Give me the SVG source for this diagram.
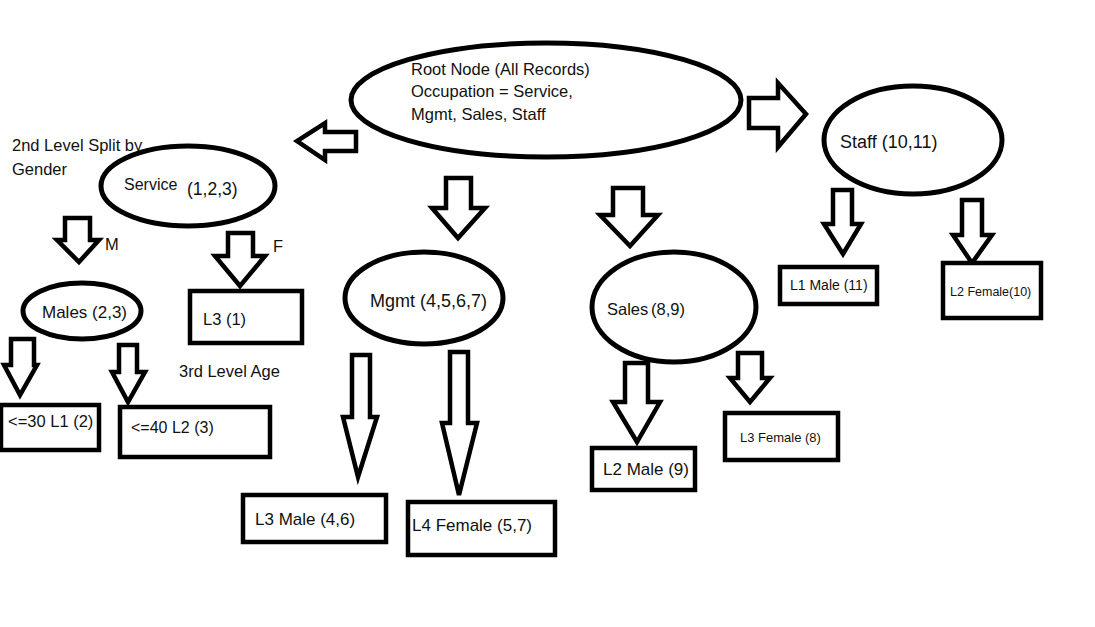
<svg xmlns="http://www.w3.org/2000/svg" width="1095" height="627" viewBox="0 0 1095 627">
<style>
.node{fill:#fff;stroke:#000;stroke-width:5}
.box{fill:#fff;stroke:#000;stroke-width:4.5}
.arrow{fill:#fff;stroke:#000;stroke-width:4.5;stroke-linejoin:miter}
text{font-family:"Liberation Sans",Arial,sans-serif;font-size:16.5px;fill:#111}
.lg{font-size:18px}
.sm{font-size:13px}
</style>
<rect width="1095" height="627" fill="#fff"/>
<g id="connectors">
<polygon class="arrow" points="356,132 325,132 325,123 297,141 325,160 325,151 356,151"/>
<polygon class="arrow" points="749,98 778,98 778,83 806,114 778,147 778,128 749,128"/>
<polygon class="arrow" points="446,178 471,178 471,208 485,208 458,238 432,208 446,208"/>
<polygon class="arrow" points="613,188 643,188 643,215 658,215 630,246 600,215 613,215"/>
<polygon class="arrow" points="833,190 852,190 852,224 861,224 843,254 824,224 833,224"/>
<polygon class="arrow" points="962,200 982,200 982,235 992,235 972,263 953,235 962,235"/>
<polygon class="arrow" points="65,218 90,218 90,240 99,240 79,262 57,240 65,240"/>
<polygon class="arrow" points="228,233 253,233 253,256 265,256 240,286 215,256 228,256"/>
<polygon class="arrow" points="11,339 34,339 34,365 37,365 20,395 4,365 11,365"/>
<polygon class="arrow" points="119,345 137,345 137,372 145,372 128,402 112,372 119,372"/>
<polygon class="arrow" points="352,355 370,355 370,417 377,417 358,477 343,417 352,417"/>
<polygon class="arrow" points="450,352 468,352 468,423 477,423 459,495 442,423 450,423"/>
<polygon class="arrow" points="625,363 648,363 648,402 660,402 637,442 613,402 625,402"/>
<polygon class="arrow" points="738,353 762,353 762,378 770,378 750,402 730,378 738,378"/>
</g>
<g id="root">
<ellipse class="node" cx="546" cy="100" rx="195" ry="57"/>
<text x="411" y="75">Root Node (All Records)</text>
<text x="411" y="97">Occupation = Service,</text>
<text x="411" y="120">Mgmt, Sales, Staff</text>
</g>
<g id="label-level2">
<text x="12" y="151">2nd Level Split by</text>
<text x="12" y="175">Gender</text>
</g>
<g id="service">
<ellipse class="node" cx="188" cy="186" rx="87" ry="40"/>
<text x="124" y="190" style="font-size:16px">Service</text>
<text x="187" y="195" style="font-size:17.5px">(1,2,3)</text>
</g>
<g id="label-m"><text x="105" y="250">M</text></g>
<g id="label-f"><text x="273" y="252">F</text></g>
<g id="staff">
<ellipse class="node" cx="913" cy="140" rx="89" ry="54"/>
<text class="lg" x="840" y="148">Staff (10,11)</text>
</g>
<g id="males">
<ellipse class="node" cx="82" cy="311" rx="59" ry="28"/>
<text x="42" y="318" style="font-size:17px">Males (2,3)</text>
</g>
<g id="l3-1">
<rect class="box" x="190" y="291" width="112" height="52"/>
<text x="203" y="325">L3 (1)</text>
</g>
<g id="label-level3"><text x="179" y="377">3rd Level Age</text></g>
<g id="le30">
<rect class="box" x="1" y="405" width="98" height="45"/>
<text x="8" y="427">&lt;=30 L1 (2)</text>
</g>
<g id="le40">
<rect class="box" x="120" y="407" width="150" height="50"/>
<text x="131" y="433" style="font-size:16px">&lt;=40 L2 (3)</text>
</g>
<g id="mgmt">
<ellipse class="node" cx="424" cy="298" rx="79" ry="46"/>
<text class="lg" x="370" y="307">Mgmt (4,5,6,7)</text>
</g>
<g id="l3male">
<rect class="box" x="243" y="495" width="143" height="47"/>
<text x="255" y="525" style="font-size:17px">L3 Male (4,6)</text>
</g>
<g id="l4female">
<rect class="box" x="408" y="502" width="147" height="53"/>
<text x="412" y="531" style="font-size:17px">L4 Female (5,7)</text>
</g>
<g id="sales">
<ellipse class="node" cx="674" cy="307" rx="82" ry="55"/>
<text x="607" y="315">Sales<tspan x="651">(8,9)</tspan></text>
</g>
<g id="l2male">
<rect class="box" x="592" y="448" width="103" height="42"/>
<text x="603" y="475" style="font-size:17px">L2 Male (9)</text>
</g>
<g id="l3female">
<rect class="box" x="725" y="413" width="113" height="47"/>
<text class="sm" x="740" y="442">L3 Female (8)</text>
</g>
<g id="l1male">
<rect class="box" x="780" y="267" width="97" height="37"/>
<text x="790" y="290" style="font-size:14px">L1 Male (11)</text>
</g>
<g id="l2female">
<rect class="box" x="943" y="263" width="98" height="55"/>
<text x="950" y="296" style="font-size:12.5px">L2 Female(10)</text>
</g>
</svg>
